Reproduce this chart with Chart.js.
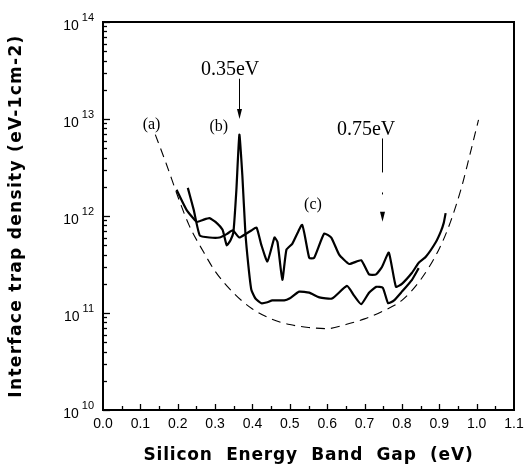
<!DOCTYPE html>
<html>
<head>
<meta charset="utf-8">
<script src="https://cdn.jsdelivr.net/npm/chart.js@4.4.0/dist/chart.umd.min.js"></script>
<style>
  html, body { margin: 0; padding: 0; background: #fff; }
</style>
</head>
<body>
<canvas id="ditChart" width="526" height="472"></canvas>
<script>
// (a) dashed reference curve
const energyA = [0.14, 0.17, 0.20, 0.23, 0.27, 0.30, 0.35, 0.40, 0.45, 0.50, 0.55, 0.60, 0.65,
                 0.70, 0.75, 0.80, 0.85, 0.90, 0.93, 0.96, 0.98, 1.005];
const ditA = [6.9e12, 3.4e12, 1.6e12, 8.1e11, 4.2e11, 2.7e11, 1.6e11, 1.1e11, 8.7e10, 7.6e10, 7.1e10,
              6.9e10, 7.6e10, 8.7e10, 1.05e11, 1.35e11, 2.2e11, 4.6e11, 8.7e11, 2.0e12, 4.0e12, 9.8e12];

// (b) curve with the 0.35 eV peak
const energyB = [0.197, 0.224, 0.251, 0.267, 0.285, 0.301, 0.320, 0.331, 0.341, 0.349, 0.357, 0.365,
                 0.373, 0.381, 0.389, 0.397, 0.408, 0.424, 0.440, 0.453, 0.485, 0.499, 0.525, 0.552,
                 0.579, 0.613, 0.653, 0.672, 0.691, 0.712, 0.731, 0.749, 0.763, 0.779, 0.800, 0.827, 0.845];
const ditB = [1.86e12, 1.15e12, 8.7e11, 9.1e11, 9.5e11, 8.7e11, 7.2e11, 5.0e11, 5.6e11, 6.8e11, 1.86e12, 6.9e12,
              2.6e12, 6.8e11, 3.1e11, 1.74e11, 1.41e11, 1.26e11, 1.29e11, 1.35e11, 1.35e11, 1.41e11, 1.66e11, 1.62e11,
              1.45e11, 1.41e11, 1.9e11, 1.51e11, 1.23e11, 1.62e11, 1.86e11, 1.82e11, 1.26e11, 1.35e11, 1.66e11, 2.2e11, 2.9e11];

// (c) upper noisy curve
const energyC = [0.227, 0.243, 0.259, 0.285, 0.312, 0.331, 0.347, 0.365, 0.384, 0.397, 0.411, 0.424, 0.440,
                 0.459, 0.467, 0.480, 0.491, 0.507, 0.533, 0.552, 0.565, 0.592, 0.611, 0.632, 0.659, 0.691,
                 0.712, 0.731, 0.747, 0.765, 0.784, 0.800, 0.827, 0.845, 0.864, 0.891, 0.904, 0.912, 0.917];
const ditC = [1.95e12, 1.15e12, 6.3e11, 6.0e11, 6.0e11, 6.5e11, 7.1e11, 6.0e11, 6.6e11, 7.1e11, 7.6e11, 5.0e11, 3.4e11,
              6.0e11, 5.4e11, 2.2e11, 4.5e11, 5.2e11, 8.1e11, 3.7e11, 3.7e11, 6.6e11, 6.0e11, 4.0e11, 3.2e11, 3.5e11,
              2.5e11, 2.5e11, 3.0e11, 4.2e11, 1.86e11, 2.0e11, 2.6e11, 3.3e11, 3.8e11, 5.4e11, 6.9e11, 8.5e11, 1.07e12];

// axis ticks
const xTickValues = [0.0, 0.1, 0.2, 0.3, 0.4, 0.5, 0.6, 0.7, 0.8, 0.9, 1.0, 1.1];
const yDecades = [10, 11, 12, 13, 14];

// curve tags and peak arrows
const curveTags = [
  { text: '(a)', x: 0.13, y: 8.7e12 },
  { text: '(b)', x: 0.31, y: 8.3e12 },
  { text: '(c)', x: 0.562, y: 1.3e12 }
];
const peakMarks = [
  { text: '0.35eV', textX: 0.34, textY: 3.2e13, x: 0.365, from: 2.6e13, to: 1.0e13 },
  { text: '0.75eV', textX: 0.704, textY: 7.8e12, x: 0.746, from: 6.3e12, to: 8.7e11 }
];

function points(xs, ys) {
  return xs.map((x, i) => ({ x: x, y: ys[i] }));
}

const axesPlugin = {
  id: 'axesPlugin',
  afterDatasetsDraw(chart) {
    const ctx = chart.ctx;
    const area = chart.chartArea;
    const xs = chart.scales.x;
    const ys = chart.scales.y;
    ctx.save();
    ctx.strokeStyle = '#000';
    ctx.fillStyle = '#000';

    // frame
    ctx.lineWidth = 2;
    ctx.strokeRect(area.left, area.top, area.right - area.left, area.bottom - area.top);

    // x ticks, pointing inward
    ctx.lineWidth = 1.3;
    for (let i = 1; i < 22; i++) {
      const px = Math.round(xs.getPixelForValue(i * 0.05)) + 0.5;
      const len = i % 2 === 0 ? 6 : 4;
      ctx.beginPath();
      ctx.moveTo(px, area.bottom);
      ctx.lineTo(px, area.bottom - len);
      ctx.stroke();
    }
    // y ticks, decades and minor steps
    yDecades.forEach(d => {
      for (let k = 1; k <= 9; k++) {
        if (d === 14 && k > 1) break;
        const py = Math.round(ys.getPixelForValue(k * Math.pow(10, d))) + 0.5;
        const len = k === 1 ? 7 : 4;
        ctx.beginPath();
        ctx.moveTo(area.left, py);
        ctx.lineTo(area.left + len, py);
        ctx.stroke();
      }
    });

    // x tick labels
    ctx.font = '14px "Liberation Sans", Arial, sans-serif';
    ctx.textAlign = 'center';
    ctx.textBaseline = 'middle';
    xTickValues.forEach(v => {
      ctx.fillText(v.toFixed(1), xs.getPixelForValue(v), area.bottom + 14);
    });

    // y tick labels as 10 with a raised exponent
    yDecades.forEach(d => {
      const py = ys.getPixelForValue(Math.pow(10, d));
      ctx.textAlign = 'right';
      ctx.font = '11px "Liberation Sans", Arial, sans-serif';
      const expW = ctx.measureText(String(d)).width;
      ctx.fillText(String(d), area.left - 9, py - 4);
      ctx.font = '14px "Liberation Sans", Arial, sans-serif';
      ctx.fillText('10', area.left - 12 - expW, py + 4);
    });

    // axis titles
    ctx.font = 'bold 17px "DejaVu Sans", sans-serif';
    ctx.textAlign = 'center';
    ctx.letterSpacing = '0.8px';
    ctx.fillText('Silicon  Energy  Band  Gap  (eV)', (area.left + area.right) / 2, 456);
    ctx.save();
    ctx.translate(17, (area.top + area.bottom) / 2);
    ctx.rotate(-Math.PI / 2);
    ctx.letterSpacing = '1.3px';
    ctx.fillText('Interface trap density (eV-1cm-2)', 0, 0);
    ctx.restore();
    ctx.letterSpacing = '0px';

    // curve tags
    ctx.font = '16px "Liberation Serif", "Times New Roman", serif';
    ctx.textAlign = 'center';
    curveTags.forEach(t => {
      ctx.fillText(t.text, xs.getPixelForValue(t.x), ys.getPixelForValue(t.y));
    });

    // peak arrows
    ctx.font = '20px "Liberation Serif", "Times New Roman", serif';
    peakMarks.forEach((m, i) => {
      ctx.fillText(m.text, xs.getPixelForValue(m.textX), ys.getPixelForValue(m.textY));
      const px = Math.round(xs.getPixelForValue(m.x)) + 0.5;
      const y0 = ys.getPixelForValue(m.from);
      const y1 = ys.getPixelForValue(m.to);
      ctx.lineWidth = 1;
      ctx.beginPath();
      if (i === 0) {
        ctx.moveTo(px, y0);
        ctx.lineTo(px, y1 - 6);
      } else {
        // broken shaft for the second marker
        ctx.moveTo(px, y0);
        ctx.lineTo(px, y0 + 34);
        ctx.moveTo(px, y0 + 54);
        ctx.lineTo(px, y0 + 56);
      }
      ctx.stroke();
      ctx.beginPath();
      ctx.moveTo(px - 2.5, y1 - 10);
      ctx.lineTo(px + 2.5, y1 - 10);
      ctx.lineTo(px, y1);
      ctx.closePath();
      ctx.fill();
    });
    ctx.restore();
  }
};

const solidStyle = {
  borderColor: '#000',
  borderWidth: 2.2,
  pointRadius: 0,
  tension: 0.15,
  fill: false
};

new Chart(document.getElementById('ditChart'), {
  type: 'line',
  data: {
    datasets: [
      {
        label: '(a)',
        data: points(energyA, ditA),
        borderColor: '#000',
        borderWidth: 1.1,
        borderDash: [9, 6],
        pointRadius: 0,
        cubicInterpolationMode: 'monotone',
        fill: false
      },
      { label: '(b)', data: points(energyB, ditB), ...solidStyle },
      { label: '(c)', data: points(energyC, ditC), ...solidStyle }
    ]
  },
  options: {
    responsive: false,
    animation: false,
    devicePixelRatio: 1,
    layout: { padding: { left: 103, right: 12, top: 22, bottom: 62 } },
    plugins: {
      legend: { display: false },
      tooltip: { enabled: false }
    },
    scales: {
      x: { type: 'linear', min: 0, max: 1.1, display: false },
      y: { type: 'logarithmic', min: 1e10, max: 1e14, display: false }
    }
  },
  plugins: [axesPlugin]
});
</script>
</body>
</html>
